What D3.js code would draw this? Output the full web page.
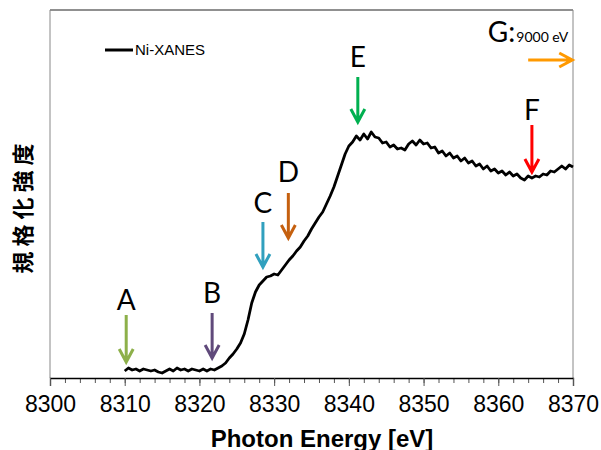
<!DOCTYPE html>
<html>
<head>
<meta charset="utf-8">
<script src="https://cdn.jsdelivr.net/npm/d3@7"></script>
<style>
  body { margin: 0; background: #fff; }
  svg { display: block; }
</style>
</head>
<body>
<div id="viz"></div>
<script>
const margin = {top: 10, right: 28, bottom: 72, left: 50};
const width = 601;
const height = 450;

// photon energy [eV], 0.5 eV steps
const energy = d3.range(8310, 8370.01, 0.5);
// normalised intensity
const intensity = [
  0.028, 0.040, 0.032, 0.036, 0.028, 0.036, 0.032, 0.028, 0.032, 0.024,
  0.020, 0.028, 0.036, 0.028, 0.040, 0.032, 0.036, 0.028, 0.036, 0.032,
  0.028, 0.036, 0.028, 0.036, 0.032, 0.040, 0.048, 0.060, 0.080, 0.096,
  0.116, 0.140, 0.176, 0.232, 0.300, 0.344, 0.372, 0.388, 0.404, 0.408,
  0.416, 0.412, 0.432, 0.452, 0.472, 0.488, 0.508, 0.524, 0.548, 0.568,
  0.596, 0.620, 0.644, 0.664, 0.696, 0.728, 0.764, 0.808, 0.852, 0.896,
  0.928, 0.944, 0.968, 0.952, 0.976, 0.956, 0.984, 0.964, 0.960, 0.940,
  0.944, 0.924, 0.932, 0.916, 0.920, 0.912, 0.936, 0.948, 0.932, 0.952,
  0.936, 0.940, 0.920, 0.924, 0.900, 0.908, 0.888, 0.900, 0.880, 0.888,
  0.868, 0.880, 0.860, 0.868, 0.848, 0.856, 0.836, 0.848, 0.828, 0.836,
  0.820, 0.828, 0.812, 0.824, 0.808, 0.816, 0.800, 0.792, 0.808, 0.800,
  0.808, 0.804, 0.816, 0.812, 0.828, 0.824, 0.836, 0.848, 0.836, 0.852,
  0.844
];
const xTicks = [8300, 8310, 8320, 8330, 8340, 8350, 8360, 8370];

// marker arrows A-F: energy, shaft top, arrow tip, label baseline (intensity units)
const markLabels = ['A', 'B', 'C', 'D', 'E', 'F'];
const markEnergy = [8310.2, 8321.7, 8328.5, 8331.9, 8341.2, 8364.5];
const markTop = [0.252, 0.260, 0.624, 0.740, 1.204, 1.012];
const markTip = [0.064, 0.080, 0.444, 0.560, 1.024, 0.824];
const markText = [0.272, 0.300, 0.660, 0.784, 1.244, 1.032];
const markColors = ['#8db04a', '#604a7b', '#31a0be', '#c5600f', '#00b050', '#ff0000'];

const data = energy.map((e, i) => ({e: e, v: intensity[i]}));

const svg = d3.select('#viz')
  .append('svg')
    .attr('width', width)
    .attr('height', height);

const xScale = d3.scaleLinear()
  .domain([8300, 8370])
  .range([margin.left, width - margin.right]);

const yScale = d3.scaleLinear()
  .domain([0, 1.472])
  .range([height - margin.bottom, margin.top]);

// plot frame
svg.append('line')
  .attr('x1', margin.left).attr('x2', width - margin.right)
  .attr('y1', margin.top).attr('y2', margin.top)
  .attr('stroke', '#222').attr('stroke-width', 1.2);
svg.append('line')
  .attr('x1', margin.left).attr('x2', margin.left)
  .attr('y1', margin.top).attr('y2', height - margin.bottom)
  .attr('stroke', '#888');
svg.append('line')
  .attr('x1', width - margin.right).attr('x2', width - margin.right)
  .attr('y1', margin.top).attr('y2', height - margin.bottom)
  .attr('stroke', '#888');

// minor ticks every 2 eV
const minorAxis = d3.axisBottom(xScale)
  .tickValues(d3.range(8300, 8371, 2))
  .tickSize(5)
  .tickFormat('');
svg.append('g')
  .attr('transform', `translate(0, ${height - margin.bottom})`)
  .call(minorAxis)
  .call(g => g.selectAll('line').attr('stroke', '#555'));

const xAxis = d3.axisBottom(xScale)
  .tickValues(xTicks)
  .tickSize(8)
  .tickPadding(10)
  .tickFormat(d3.format('d'));
const xAxisGroup = svg.append('g')
  .attr('transform', `translate(0, ${height - margin.bottom})`)
  .call(xAxis);
xAxisGroup.select('.domain').attr('stroke', '#000').attr('stroke-width', 1.3);
xAxisGroup.selectAll('.tick line').attr('stroke', '#555');
xAxisGroup.selectAll('text')
  .attr('font-family', '"Liberation Sans", Arial, sans-serif')
  .attr('font-size', 23)
  .attr('fill', '#000');

// axis titles (the reference crops the x title at the bottom edge)
svg.append('text')
  .attr('x', 322)
  .attr('y', 447)
  .attr('text-anchor', 'middle')
  .attr('font-family', '"Liberation Sans", Arial, sans-serif')
  .attr('font-weight', 'bold')
  .attr('font-size', 24)
  .text('Photon Energy [eV]');

svg.append('text')
  .attr('transform', 'translate(31, 206) rotate(-90)')
  .attr('text-anchor', 'middle')
  .attr('font-family', '"Noto Sans CJK JP", sans-serif')
  .attr('font-weight', 'bold')
  .attr('font-size', 22)
  .attr('letter-spacing', 5)
  .text('規格化強度');

// spectrum
const line = d3.line()
  .x(d => xScale(d.e))
  .y(d => yScale(d.v));

svg.append('path')
  .datum(data)
  .attr('d', line)
  .attr('fill', 'none')
  .attr('stroke', '#000')
  .attr('stroke-width', 2.8)
  .attr('stroke-linejoin', 'round');

// legend
svg.append('line')
  .attr('x1', 105).attr('x2', 133)
  .attr('y1', 50).attr('y2', 50)
  .attr('stroke', '#000').attr('stroke-width', 3);
svg.append('text')
  .attr('x', 135).attr('y', 55)
  .attr('font-family', '"Liberation Sans", Arial, sans-serif')
  .attr('font-size', 15)
  .text('Ni-XANES');

// marker arrows
const marks = markLabels.map((l, i) => ({
  label: l, e: markEnergy[i], top: markTop[i], tip: markTip[i], text: markText[i], color: markColors[i]
}));

const markG = svg.append('g').selectAll('g')
  .data(marks)
  .join('g');

markG.append('path')
  .attr('d', d => {
    const x = xScale(d.e), y0 = yScale(d.top), y1 = yScale(d.tip);
    return `M${x},${y0}L${x},${y1 - 1}M${x - 7},${y1 - 13}L${x},${y1}L${x + 7},${y1 - 13}`;
  })
  .attr('fill', 'none')
  .attr('stroke', d => d.color)
  .attr('stroke-width', 3);

markG.append('text')
  .attr('x', d => xScale(d.e))
  .attr('y', d => yScale(d.text))
  .attr('text-anchor', 'middle')
  .attr('font-family', 'Lato, "Open Sans", sans-serif')
  .attr('font-size', 28)
  .attr('fill', '#000')
  .text(d => d.label);

// G: beyond the range, 9000 eV
const gStart = 8364.0, gEnd = 8369.9, gLevel = 1.272;
svg.append('path')
  .attr('d', () => {
    const x0 = xScale(gStart), x1 = xScale(gEnd), y = yScale(gLevel);
    return `M${x0},${y}L${x1 - 1},${y}M${x1 - 13},${y - 7}L${x1},${y}L${x1 - 13},${y + 7}`;
  })
  .attr('fill', 'none')
  .attr('stroke', '#ff9900')
  .attr('stroke-width', 3);

const gText = svg.append('text')
  .attr('x', xScale(8358.6))
  .attr('y', yScale(1.344))
  .attr('font-family', 'Lato, "Open Sans", sans-serif')
  .attr('fill', '#000');
gText.append('tspan').attr('font-size', 28).text('G:');
gText.append('tspan').attr('font-size', 14).attr('dx', 1).text('9000 eV');
</script>
</body>
</html>
